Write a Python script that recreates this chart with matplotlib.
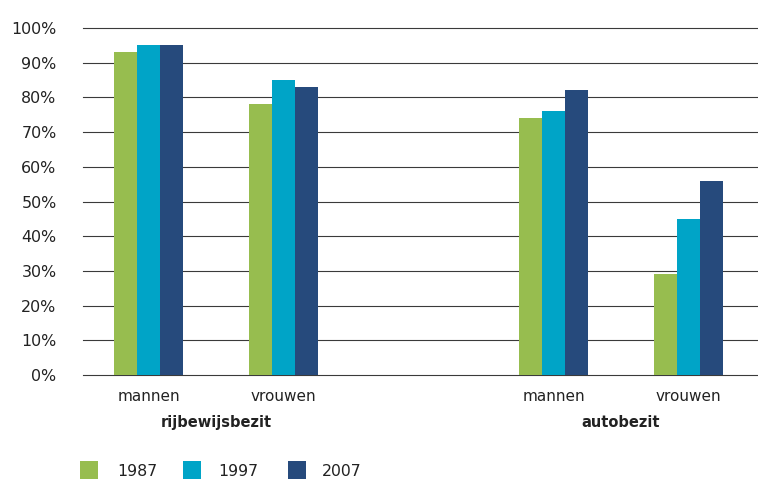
import matplotlib
matplotlib.use("Agg")
import matplotlib.pyplot as plt
from matplotlib.patches import Rectangle

categories = ["mannen", "vrouwen", "mannen", "vrouwen"]
positions = [0, 1, 3, 4]
groups = ["rijbewijsbezit", "autobezit"]
group_centers = [0.5, 3.5]
years = ["1987", "1997", "2007"]
v1987 = [93, 78, 74, 29]
v1997 = [95, 85, 76, 45]
v2007 = [95, 83, 82, 56]
yticks = [0, 10, 20, 30, 40, 50, 60, 70, 80, 90, 100]
ytick_labels = [f"{t}%" for t in yticks]

colors = ["#97BD4F", "#00A4C7", "#264A7C"]
plt.rcParams['font.family'] = ['DejaVu Sans']
txtc = "#222222"

W, H = 758, 479
fig = plt.figure(figsize=(W / 100, H / 100), dpi=100)
ax = fig.add_axes([83 / W, 1 - 375 / H, 1 - 83 / W, (375 - 28) / H])
ax.set_xlim(-0.5, 4.5)
ax.set_ylim(0, 100)

bw = 23 / 135
for i, (vals, c) in enumerate(zip([v1987, v1997, v2007], colors)):
    xs = [p + (i - 1) * bw - 0.015 for p in positions]
    ax.bar(xs, vals, width=bw, color=c, zorder=3, linewidth=0)

for t in yticks:
    ax.axhline(t, color="#3a3a3a", linewidth=0.8, zorder=1, clip_on=False)

for s in ax.spines.values():
    s.set_visible(False)
ax.set_xticks([])
ax.set_yticks(yticks)
ax.set_yticklabels(ytick_labels, fontsize=11.4, color=txtc)
ax.tick_params(axis="y", length=0, pad=19)

for p, cat in zip(positions, categories):
    ax.text(p - 0.015, -6.3, cat, ha="center", va="center", fontsize=11, color=txtc, clip_on=False)
for gc, g in zip(group_centers, groups):
    ax.text(gc - 0.015, -13.8, g, ha="center", va="center", fontsize=10.5,
            fontweight="bold", color=txtc, clip_on=False)

# legend
sq_x = [80, 183, 288]
txt_x = [117, 218, 322]
for sx, tx, c, y in zip(sq_x, txt_x, colors, years):
    fig.patches.append(Rectangle((sx / W, 0), 18 / W, 18 / H, transform=fig.transFigure,
                                 color=c, linewidth=0))
    fig.text(tx / W, 1 - 472 / H, y, ha="left", va="center", fontsize=11.3, color=txtc)

fig.savefig("out.png", dpi=100)
